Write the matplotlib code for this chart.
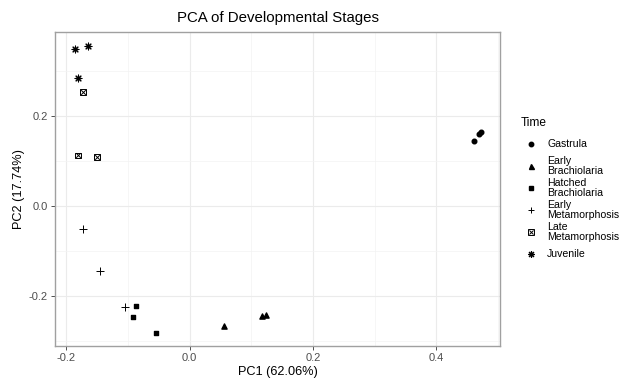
import matplotlib
matplotlib.use('Agg')
import matplotlib.pyplot as plt
from matplotlib.lines import Line2D

plt.rcParams['font.family'] = ['Liberation Sans', 'DejaVu Sans']
plt.rcParams['axes.unicode_minus'] = False

# PCA scores
stages = ['Gastrula', 'Early\nBrachiolaria', 'Hatched\nBrachiolaria',
          'Early\nMetamorphosis', 'Late\nMetamorphosis', 'Juvenile']
gastrula_x = [0.461, 0.469, 0.472]
gastrula_y = [0.144, 0.159, 0.165]
early_brach_x = [0.055, 0.117, 0.124]
early_brach_y = [-0.267, -0.245, -0.243]
hatched_brach_x = [-0.087, -0.091, -0.055]
hatched_brach_y = [-0.222, -0.247, -0.282]
early_meta_x = [-0.172, -0.145, -0.104]
early_meta_y = [-0.052, -0.144, -0.224]
late_meta_x = [-0.173, -0.181, -0.150]
late_meta_y = [0.252, 0.112, 0.108]
juvenile_x = [-0.186, -0.165, -0.180]
juvenile_y = [0.348, 0.356, 0.284]

x_ticks = [-0.2, 0.0, 0.2, 0.4]
y_ticks = [-0.2, 0.0, 0.2]

W, H = 619, 381
fig = plt.figure(figsize=(W / 100, H / 100), dpi=100)
ax = fig.add_axes([0.0889, 0.0906, 0.7189, 0.8264])

k = 'black'
ax.scatter(gastrula_x, gastrula_y, marker='o', s=11, color=k, zorder=3)
ax.scatter(early_brach_x, early_brach_y, marker='^', s=14, color=k, zorder=3)
ax.scatter(hatched_brach_x, hatched_brach_y, marker='s', s=11, color=k, zorder=3)
ax.scatter(early_meta_x, early_meta_y, marker='+', s=30, color=k, linewidths=0.7, zorder=3)
ax.scatter(late_meta_x, late_meta_y, marker='s', s=18, facecolors='none', edgecolors=k, linewidths=0.7, zorder=3)
ax.scatter(late_meta_x, late_meta_y, marker='x', s=11, color=k, linewidths=0.7, zorder=3)
ax.scatter(juvenile_x, juvenile_y, marker=(8, 2, 0), s=24, color=k, linewidths=0.8, zorder=3)

ax.set_xlim(-0.218, 0.503)
ax.set_ylim(-0.312, 0.387)
ax.set_xticks(x_ticks)
ax.set_yticks(y_ticks)
ax.set_xticks([-0.1, 0.1, 0.3, 0.5], minor=True)
ax.set_yticks([-0.3, -0.1, 0.1, 0.3], minor=True)
ax.xaxis.set_major_formatter(matplotlib.ticker.FormatStrFormatter('%.1f'))
ax.yaxis.set_major_formatter(matplotlib.ticker.FormatStrFormatter('%.1f'))
ax.grid(True, which='major', color='#ebebeb', linewidth=0.8, zorder=0)
ax.grid(True, which='minor', color='#f3f3f3', linewidth=0.5, zorder=0)
ax.set_axisbelow(True)
ax.tick_params(which='major', length=3, width=0.6, color='#333333',
               labelsize=8, labelcolor='#4d4d4d', pad=2)
ax.tick_params(which='minor', length=0)
for s in ax.spines.values():
    s.set_color('#a0a0a0')
    s.set_linewidth(1.0)

ax.set_xlabel('PC1 (62.06%)', fontsize=9.2, labelpad=2)
ax.set_ylabel('PC2 (17.74%)', fontsize=9.2, labelpad=3)
ax.set_title('PCA of Developmental Stages', fontsize=10.8, pad=7)

# legend, drawn key by key so that every row has the same height like ggplot
keys = [
    [dict(marker='o', markersize=3.2)],
    [dict(marker='^', markersize=3.6)],
    [dict(marker='s', markersize=3.2)],
    [dict(marker='+', markersize=5, markeredgewidth=0.7)],
    [dict(marker='s', markersize=4, markerfacecolor='none', markeredgewidth=0.7),
     dict(marker='x', markersize=3, markeredgewidth=0.7)],
    [dict(marker=(8, 2, 0), markersize=5, markeredgewidth=0.8)],
]
fig.text(521 / W, 1 - 123 / H, 'Time', fontsize=8.6, va='center', ha='left')
for i, (label, key) in enumerate(zip(stages, keys)):
    yy = 1 - (144 + 22 * i) / H
    for kw in key:
        fig.add_artist(Line2D([531 / W], [yy], transform=fig.transFigure,
                              linestyle='none', color=k, **kw))
    fig.text(547 / W, yy, label, fontsize=7.6, va='center', ha='left',
             linespacing=0.95)

plt.savefig('out.png', dpi=100)
